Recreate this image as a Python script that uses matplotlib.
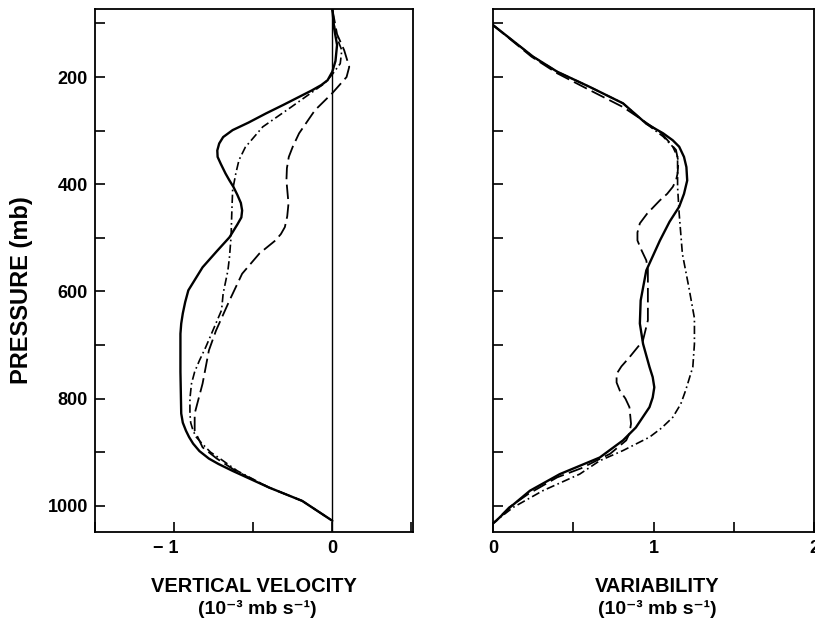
import numpy as np
import matplotlib
matplotlib.use("Agg")
from matplotlib import pyplot as plt
from matplotlib.transforms import ScaledTranslation

plt.rcParams['font.family'] = ['Liberation Sans', 'DejaVu Sans']
plt.rcParams['font.weight'] = 'bold'

# vertical velocity profiles (pressure in mb, omega in 1e-3 mb/s)
p_vv_solid = [73, 110, 140, 170, 190, 206, 215, 225, 237, 252, 268, 285, 299, 312, 324, 337, 349, 362, 380,
              393, 405, 420, 435, 449, 462, 475, 487, 499, 525, 555, 598, 620, 641, 660, 679, 750, 828, 845,
              860, 872, 884, 898, 912, 922, 935, 966, 991, 1028]
vv_solid = [0.0, 0.012, 0.03, 0.02, 0.0, -0.03, -0.07, -0.13, -0.21, -0.31, -0.42, -0.53, -0.63, -0.69,
            -0.715, -0.727, -0.725, -0.705, -0.675, -0.65, -0.625, -0.60, -0.578, -0.57, -0.575, -0.60,
            -0.625, -0.65, -0.73, -0.82, -0.91, -0.93, -0.945, -0.955, -0.96, -0.96, -0.955, -0.945,
            -0.925, -0.905, -0.88, -0.84, -0.78, -0.72, -0.63, -0.40, -0.19, 0.0]

p_vv_dashdot = [73, 120, 150, 175, 195, 212, 235, 256, 293, 331, 355, 380, 411, 450, 498, 536, 561, 604, 635,
                704, 729, 750, 772, 800, 828, 845, 860, 872, 885, 900, 912, 935, 966, 991, 1028]
vv_dashdot = [0.0, 0.02, 0.06, 0.05, 0.0, -0.05, -0.16, -0.26, -0.44, -0.55, -0.59, -0.61, -0.63, -0.635,
              -0.64, -0.65, -0.66, -0.69, -0.70, -0.80, -0.84, -0.87, -0.89, -0.90, -0.90, -0.895, -0.88,
              -0.86, -0.82, -0.77, -0.71, -0.60, -0.40, -0.19, 0.0]

p_vv_dashed = [73, 120, 150, 181, 200, 230, 262, 305, 330, 349, 370, 393, 436, 460, 480, 493, 505, 517, 529,
               567, 617, 673, 710, 772, 828, 860, 891, 912, 935, 966, 991, 1028]
vv_dashed = [0.0, 0.03, 0.075, 0.107, 0.09, 0.0, -0.11, -0.21, -0.25, -0.275, -0.287, -0.29, -0.277,
             -0.285, -0.30, -0.325, -0.36, -0.41, -0.46, -0.57, -0.65, -0.735, -0.78, -0.82, -0.87, -0.87,
             -0.82, -0.73, -0.61, -0.40, -0.19, 0.0]

# variability profiles
p_var_solid = [103, 162, 190, 218, 249, 287, 305, 318, 330, 349, 368, 393, 418, 442, 470, 505, 561, 617,
               660, 698, 741, 760, 779, 798, 816, 854, 878, 910, 941, 972, 1003, 1028, 1033]
var_solid = [0.0, 0.25, 0.40, 0.60, 0.81, 0.955, 1.06, 1.12, 1.16, 1.19, 1.205, 1.21, 1.19, 1.16, 1.10,
             1.04, 0.955, 0.92, 0.915, 0.935, 0.975, 0.995, 1.005, 0.995, 0.975, 0.89, 0.81, 0.665, 0.416,
             0.23, 0.106, 0.02, 0.0]

p_var_dashed = [103, 162, 193, 224, 256, 280, 305, 336, 358, 380, 393, 405, 418, 430, 455, 473, 490, 505,
                523, 542, 560, 598, 654, 692, 723, 740, 754, 770, 785, 800, 816, 847, 865, 878, 903, 930,
                947, 978, 1003, 1028, 1033]
var_dashed = [0.0, 0.24, 0.40, 0.60, 0.81, 0.93, 1.05, 1.14, 1.155, 1.15, 1.14, 1.12, 1.085, 1.04, 0.96,
              0.915, 0.90, 0.90, 0.925, 0.955, 0.965, 0.965, 0.965, 0.934, 0.85, 0.80, 0.77, 0.77, 0.79,
              0.825, 0.85, 0.86, 0.85, 0.83, 0.73, 0.55, 0.40, 0.22, 0.10, 0.02, 0.0]

p_var_dashdot = [103, 162, 190, 218, 249, 287, 311, 330, 349, 405, 455, 530, 592, 650, 698, 741, 785, 810,
                 835, 855, 872, 897, 916, 941, 972, 1003, 1030, 1033]
var_dashdot = [0.0, 0.25, 0.40, 0.60, 0.81, 0.955, 1.06, 1.12, 1.15, 1.15, 1.16, 1.18, 1.22, 1.255, 1.255,
               1.245, 1.20, 1.17, 1.12, 1.05, 0.975, 0.81, 0.665, 0.54, 0.31, 0.126, 0.01, 0.0]

p_ticks = [100, 200, 300, 400, 500, 600, 700, 800, 900, 1000]
p_labels = ['', '200', '', '400', '', '600', '', '800', '', '1000']
vv_ticks = [-1.5, -1.0, -0.5, 0.0, 0.5]
vv_labels = ['', '\u2212 1', '', '0', '']
var_ticks = [0.0, 0.5, 1.0, 1.5, 2.0]
var_labels = ['0', '', '1', '', '2']

fig = plt.figure(figsize=(8.15, 6.2), dpi=100)
ax1 = fig.add_axes([95 / 815, 88 / 620, 318 / 815, 523 / 620])
ax2 = fig.add_axes([493 / 815, 88 / 620, 321 / 815, 523 / 620])

solid_kw = dict(color='black', lw=1.7, solid_capstyle='round', solid_joinstyle='round')
dash_kw = dict(color='black', lw=1.3, dashes=(8, 3))
dashdot_kw = dict(color='black', lw=1.2, dashes=(5, 2, 1, 2))

ax1.axvline(0, color='black', lw=1.0)
ax1.plot(vv_solid, p_vv_solid, **solid_kw)
ax1.plot(vv_dashdot, p_vv_dashdot, **dashdot_kw)
ax1.plot(vv_dashed, p_vv_dashed, **dash_kw)

ax2.plot(var_solid, p_var_solid, **solid_kw)
ax2.plot(var_dashdot, p_var_dashdot, **dashdot_kw)
ax2.plot(var_dashed, p_var_dashed, **dash_kw)

ax1.set_xlim(-1.475, 0.51)
ax2.set_xlim(0, 2.0)
for ax in (ax1, ax2):
    ax.set_ylim(1049, 73)
    ax.set_yticks(p_ticks)
    ax.tick_params(direction='in', length=7, width=1.2, labelsize=13, pad=5)
    for s in ax.spines.values():
        s.set_linewidth(1.3)

ax1.set_yticklabels(p_labels, fontweight='bold')
ax2.set_yticklabels([])
ax1.set_xticks(vv_ticks)
ax1.set_xticklabels(vv_labels, fontweight='bold')
ax2.set_xticks(var_ticks)
ax2.set_xticklabels(var_labels, fontweight='bold')
ax1.tick_params(axis='x', pad=6)
ax2.tick_params(axis='x', pad=6)

# keep the "1" of the negative label over its tick
for lab in ax1.get_xticklabels():
    if lab.get_text().startswith('\u2212'):
        lab.set_transform(lab.get_transform() + ScaledTranslation(-6 / 72, 0, fig.dpi_scale_trans))

fig.text(22 / 815, 1 - 290 / 620, 'PRESSURE (mb)', rotation=90, ha='center', va='center',
         fontsize=17, fontweight='bold')
fig.text(254 / 815, 1 - 587 / 620, 'VERTICAL VELOCITY', ha='center', va='center', fontsize=14.4,
         fontweight='bold')
fig.text(257 / 815, 1 - 609 / 620, '(10\u207b\u00b3 mb s\u207b\u00b9)', ha='center', va='center',
         fontsize=14, fontweight='bold')
fig.text(657 / 815, 1 - 587 / 620, 'VARIABILITY', ha='center', va='center', fontsize=14.4,
         fontweight='bold')
fig.text(657 / 815, 1 - 609 / 620, '(10\u207b\u00b3 mb s\u207b\u00b9)', ha='center', va='center',
         fontsize=14, fontweight='bold')

fig.savefig('out.png', dpi=100)
